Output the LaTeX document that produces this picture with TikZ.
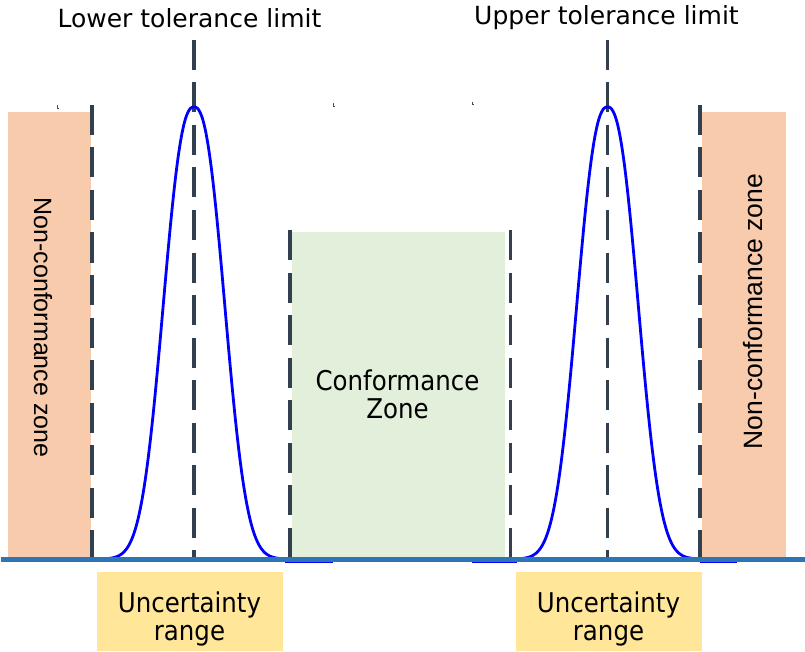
\documentclass[tikz,border=0pt]{standalone}
\usepackage{fontspec}
\setmainfont{DejaVu Sans}
\newfontfamily\arialf{Liberation Sans}
\newfontfamily\narrowf{DejaVu Sans}[FakeStretch=0.9]
\definecolor{zoneorange}{HTML}{F8CBAD}
\definecolor{zonegreen}{HTML}{E2EFDA}
\definecolor{zoneyellow}{HTML}{FFE699}
\definecolor{dashcol}{HTML}{323F4F}
\definecolor{basecol}{HTML}{2E75B6}
\definecolor{curvecol}{HTML}{0000FF}
\begin{document}
\begin{tikzpicture}[x=1pt,y=-1pt,
  limitline/.style={draw=dashcol, line width=3.2pt, dash pattern=on 30pt off 12.5pt},
  bell/.style={draw=curvecol, line width=2.8pt, line join=round},
  tail/.style={draw=curvecol, line width=2.2pt},
  baseline/.style={draw=basecol, line width=4.6pt},
  toplbl/.style={inner sep=0pt, font=\fontsize{25}{30}\selectfont},
  boxlbl/.style={inner sep=0pt, align=center, font=\narrowf\fontsize{27.2}{28.3}\selectfont},
  sidelbl/.style={inner sep=0pt, font=\arialf\fontsize{25}{30}\selectfont},
  speck/.style={draw=black!70, line width=0.9pt}
]
\useasboundingbox (0,0) rectangle (805,652);
\fill[white] (0,0) rectangle (805,652);

% zones
\fill[zoneorange] (7.5,112) rectangle (91,558);
\fill[zoneorange] (702,112) rectangle (786,558);
\fill[zonegreen] (292,232) rectangle (504.5,557);
\fill[zoneyellow] (97,572) rectangle (283,651);
\fill[zoneyellow] (515.5,572) rectangle (702,651);

% specks
\draw[speck] (57,105.5) -- (57,108) -- (59,108);
\draw[speck] (333,103.5) -- (333,106) -- (335,106);
\draw[speck] (472,102) -- (472,104.5) -- (474,104.5);

% coordinates for limit lines
\coordinate (a1) at (92,105);   \coordinate (a2) at (92,558);
\coordinate (b1) at (194,40);   \coordinate (b2) at (194,558);
\coordinate (c1) at (290,230);  \coordinate (c2) at (290,558);
\coordinate (d1) at (510.5,230);\coordinate (d2) at (510.5,558);
\coordinate (e1) at (607.5,40); \coordinate (e2) at (607.5,558);
\coordinate (f1) at (700,105);  \coordinate (f2) at (700,566);
\draw[limitline] (a1) -- (a2);
\draw[limitline] (b1) -- (b2);
\draw[limitline] (c1) -- (c2);
\draw[limitline] (d1) -- (d2);
\draw[limitline] (e1) -- (e2);
\draw[limitline] (f1) -- (f2);

% tails just below baseline
\coordinate (t1a) at (285,562); \coordinate (t1b) at (333,562);
\coordinate (t2a) at (472,562); \coordinate (t2b) at (517,562);
\coordinate (t3a) at (700,562); \coordinate (t3b) at (737,562);
\draw[tail] (t1a) -- (t1b);
\draw[tail] (t2a) -- (t2b);
\draw[tail] (t3a) -- (t3b);

% bell curves
\draw[bell] plot[domain=-96:96, samples=120, smooth]
  ({194+\x},{559-452*exp(-((abs(\x)/38.7)^2.4))});
\draw[bell] plot[domain=-96:96, samples=120, smooth]
  ({607.5+\x},{559-452*exp(-((abs(\x)/38.7)^2.4))});

% baseline
\coordinate (L) at (1,559.5);
\coordinate (R) at (805,559.5);
\draw[baseline] (L) -- (R);

% labels
\node[toplbl, anchor=base] (lower) at (189.5,27.5) {Lower tolerance limit};
\node[toplbl, anchor=base] (upper) at (606.5,24.5) {Upper tolerance limit};
\node[boxlbl] (conf) at (397.5,394.2) {Conformance\\Zone};
\node[boxlbl] (unc1) at (189.5,619.2) {Uncertainty\\range};
\node[boxlbl] (unc2) at (608.5,619.2) {Uncertainty\\range};
\node[sidelbl, anchor=base, rotate=-90] (ncl) at (34,327.5) {Non-conformance zone};
\node[sidelbl, anchor=base, rotate=90, font=\arialf\fontsize{26.5}{30}\selectfont] (ncr) at (762,311.5) {Non-conformance zone};
\end{tikzpicture}
\end{document}
